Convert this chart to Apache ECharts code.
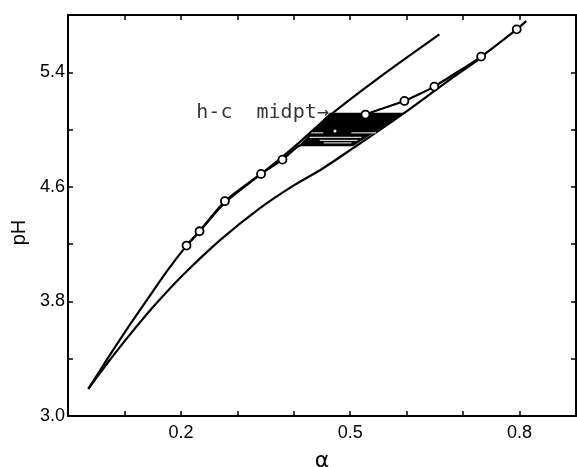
<!DOCTYPE html>
<html>
<head>
<meta charset="utf-8">
<script src="https://cdn.jsdelivr.net/npm/echarts@6/dist/echarts.min.js"></script>
<style>
  html, body { margin: 0; padding: 0; background: #fff; }
  #root { width: 577px; height: 467px; }
</style>
</head>
<body>
<div id="root"></div>
<script>
// curves: [alpha, pH]
const upperCurve = [
  [0.036, 3.19], [0.07, 3.40], [0.105, 3.61], [0.14, 3.81], [0.175, 4.01],
  [0.21, 4.19], [0.233, 4.29], [0.278, 4.49], [0.342, 4.69], [0.38, 4.81],
  [0.414, 4.925], [0.464, 5.10], [0.55, 5.36], [0.658, 5.665]
]
const lowerCurve = [
  [0.036, 3.19], [0.07, 3.37], [0.11, 3.57], [0.155, 3.78], [0.205, 3.99],
  [0.27, 4.23], [0.336, 4.44], [0.40, 4.61], [0.45, 4.725], [0.505, 4.87],
  [0.596, 5.117], [0.67, 5.33], [0.732, 5.50]
]
const dataLine = [
  [0.21, 4.19], [0.233, 4.29], [0.278, 4.50], [0.342, 4.69], [0.38, 4.79],
  [0.408, 4.883], [0.473, 4.99], [0.527, 5.105], [0.596, 5.20], [0.649, 5.30],
  [0.732, 5.51], [0.795, 5.70], [0.812, 5.757]
]
const circles = [
  [0.21, 4.19], [0.233, 4.29], [0.278, 4.50], [0.342, 4.69], [0.38, 4.79],
  [0.527, 5.105], [0.596, 5.20], [0.649, 5.30], [0.732, 5.51], [0.795, 5.70]
]
const innerDot = [[0.473, 4.99]]

// shaded h-c region and the white streaks in its lower part
const hatchCorners = [[0.408, 4.883], [0.464, 5.117], [0.596, 5.117], [0.505, 4.883]]
const hatchGaps = [ // [pH, alphaFrom, alphaTo]
  [4.977, 0.431, 0.452], [4.977, 0.502, 0.546],
  [4.946, 0.428, 0.520],
  [4.925, 0.446, 0.513],
  [4.907, 0.453, 0.502]
]

const noteText = 'h-c  midpt\u2192'
const notePos = [[0.462, 5.115]]

const xTicks = [0.1, 0.2, 0.3, 0.4, 0.5, 0.6, 0.7, 0.8]
const xLabelVals = [0.2, 0.5, 0.8]
const xLabels = ['0.2', '0.5', '0.8']
const yTicks = [3.4, 3.8, 4.2, 4.6, 5.0, 5.4]
const yLabelVals = [3.0, 3.8, 4.6, 5.4]
const yLabels = ['3.0', '3.8', '4.6', '5.4']

const chart = echarts.init(document.getElementById('root'))

const font = 'Liberation Sans, Arial, sans-serif'
const black = '#000'

function pick (vals, labels) {
  return function (v) {
    for (let i = 0; i < vals.length; i++) {
      if (Math.abs(vals[i] - v) < 1e-6) return labels[i]
    }
    return ''
  }
}

function axisBase (extra) {
  return Object.assign({
    type: 'value',
    axisLine: { show: true, onZero: false, lineStyle: { color: black, width: 2 } },
    splitLine: { show: false },
    minorTick: { show: false }
  }, extra)
}

function ticks (values) {
  return { show: true, inside: true, length: 5, customValues: values, lineStyle: { color: black, width: 1.5 } }
}

const option = {
  animation: false,
  backgroundColor: '#fff',
  grid: { left: 68, right: 1, top: 15, bottom: 51, outerBoundsMode: 'none' },
  xAxis: [
    axisBase({
      min: 0, max: 0.9, position: 'bottom',
      axisTick: ticks(xTicks),
      axisLabel: {
        customValues: xLabelVals, formatter: pick(xLabelVals, xLabels),
        color: black, fontSize: 18, fontFamily: font, margin: 8
      },
      name: '\u03b1', nameLocation: 'middle', nameGap: 34,
      nameTextStyle: { color: black, fontSize: 22, fontFamily: 'DejaVu Sans' }
    }),
    axisBase({
      min: 0, max: 0.9, position: 'top',
      axisTick: ticks(xTicks),
      axisLabel: { show: false }
    })
  ],
  yAxis: [
    axisBase({
      min: 3.0, max: 5.8, position: 'left',
      axisTick: ticks(yTicks),
      axisLabel: {
        customValues: yLabelVals, formatter: pick(yLabelVals, yLabels),
        color: black, fontSize: 18, fontFamily: font, margin: 3
      },
      name: 'pH', nameLocation: 'middle', nameRotate: 90, nameGap: 38,
      nameTextStyle: { color: black, fontSize: 20, fontFamily: font, padding: [0, 34, 0, 0] }
    }),
    axisBase({
      min: 3.0, max: 5.8, position: 'right',
      axisTick: ticks(yTicks),
      axisLabel: { show: false }
    })
  ],
  series: [
    {
      type: 'line', data: upperCurve, smooth: 0.3, showSymbol: false, z: 2,
      lineStyle: { color: black, width: 2.2 }
    },
    {
      type: 'line', data: lowerCurve, smooth: 0.3, showSymbol: false, z: 2,
      lineStyle: { color: black, width: 2.2 }
    },
    {
      type: 'line', data: dataLine, smooth: 0.15, showSymbol: false, z: 2,
      lineStyle: { color: black, width: 2.2 }
    },
    {
      // shaded h-c region
      type: 'custom', z: 3, data: [0],
      renderItem: function (params, api) {
        const pts = hatchCorners.map(p => api.coord(p))
        const children = [{
          type: 'polygon', shape: { points: pts }, style: { fill: black }
        }]
        hatchGaps.forEach(g => {
          const a = api.coord([g[1], g[0]])
          const b = api.coord([g[2], g[0]])
          children.push({
            type: 'line', shape: { x1: a[0], y1: a[1], x2: b[0], y2: b[1] },
            style: { stroke: '#fff', lineWidth: 1 }
          })
        })
        return { type: 'group', children: children }
      }
    },
    {
      type: 'scatter', data: circles, z: 5, symbol: 'circle', symbolSize: 8,
      itemStyle: { color: '#fff', borderColor: black, borderWidth: 1.8, opacity: 1 }
    },
    {
      type: 'scatter', data: innerDot, z: 5, symbol: 'circle', symbolSize: 3,
      itemStyle: { color: '#fff', opacity: 1 }
    },
    {
      type: 'scatter', data: notePos, z: 6, symbolSize: 0, silent: true,
      label: {
        show: true, position: 'left', distance: 0, formatter: noteText,
        color: black, fontSize: 20, fontFamily: 'DejaVu Sans Mono'
      }
    }
  ]
}

chart.setOption(option)
</script>
</body>
</html>
